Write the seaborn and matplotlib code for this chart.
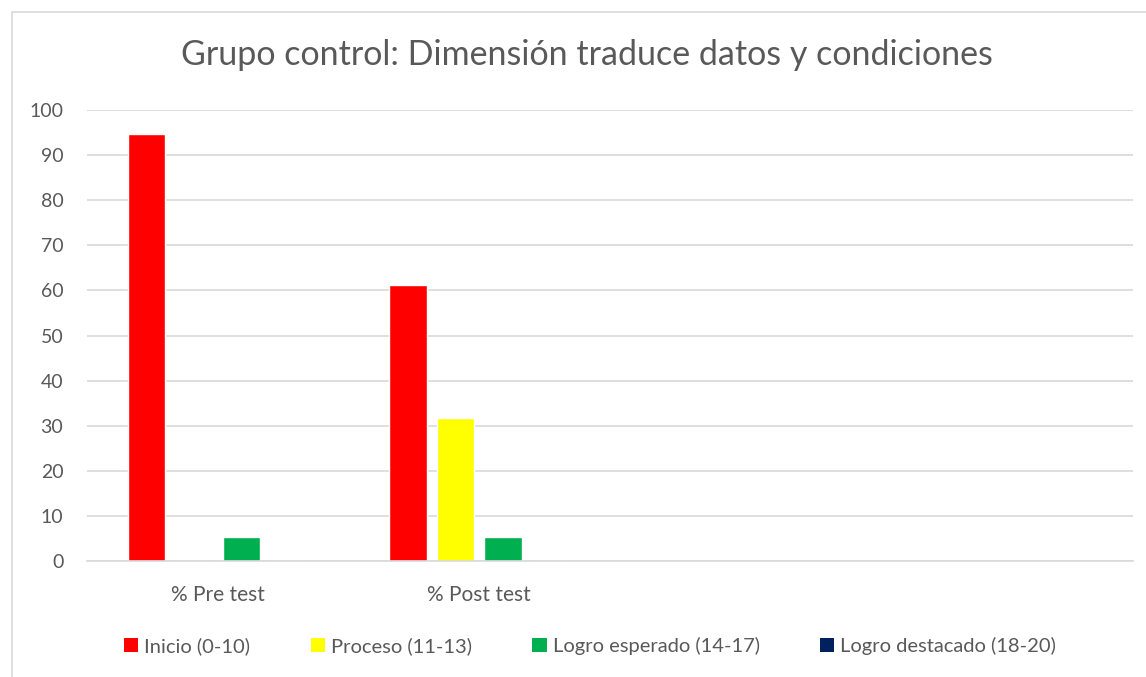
import pandas as pd
import matplotlib.pyplot as plt
import seaborn as sns
from matplotlib.patches import Rectangle, Patch

categorias = ["% Pre test", "% Post test"]
niveles = ["Inicio (0-10)", "Proceso (11-13)", "Logro esperado (14-17)", "Logro destacado (18-20)"]
pre_test = [94.7, 0, 5.3, 0]
post_test = [61.2, 31.8, 5.3, 0]
colores = ["#ff0000", "#ffff00", "#00b050", "#002060"]

df = pd.DataFrame({
    "Prueba": [categorias[0]] * 4 + [categorias[1]] * 4,
    "Nivel": niveles * 2,
    "Porcentaje": pre_test + post_test,
})

sns.set_style("white")
plt.rcParams["font.family"] = ["Lato", "DejaVu Sans"]
gris = "#595959"

fig = plt.figure(figsize=(11.46, 6.77), dpi=100)
ax = fig.add_axes([0.0759, 0.1713, 0.9128, 0.6662])

sns.barplot(data=df, x="Prueba", y="Porcentaje", hue="Nivel", order=categorias,
            hue_order=niveles, palette=colores, width=0.725, gap=0.21,
            saturation=1, legend=False, ax=ax)

ax.set_xlim(-0.5, 3.5)
ax.set_ylim(0, 100)
ax.set_yticks(range(0, 101, 10))
ax.grid(axis="y", color="#d9d9d9", linewidth=1.2)
ax.set_axisbelow(True)
for s in ["top", "right", "left"]:
    ax.spines[s].set_visible(False)
ax.spines["bottom"].set_color("#d9d9d9")
ax.spines["bottom"].set_linewidth(1.2)
ax.tick_params(axis="y", length=0, labelsize=14, colors=gris, pad=17)
ax.tick_params(axis="x", length=0, labelsize=15, colors=gris, pad=17)
ax.set_xlabel("")
ax.set_ylabel("")

fig.text(0.512, 0.919, "Grupo control: Dimensión traduce datos y condiciones",
         ha="center", va="center", fontsize=24.5, color=gris)

handles = [Patch(facecolor=c, edgecolor="none") for c in colores]
fig.legend(handles, niveles, loc="center", bbox_to_anchor=(0.515, 0.046), ncol=4,
           frameon=False, fontsize=14.5, labelcolor=gris, handlelength=0.7,
           handleheight=0.7, handletextpad=0.3, columnspacing=3.0)

fig.patches.append(Rectangle((0.0105, -0.01), 1.0, 0.993, transform=fig.transFigure,
                             fill=False, edgecolor="#d9d9d9", linewidth=1.2))

fig.savefig("out.png", dpi=100)
